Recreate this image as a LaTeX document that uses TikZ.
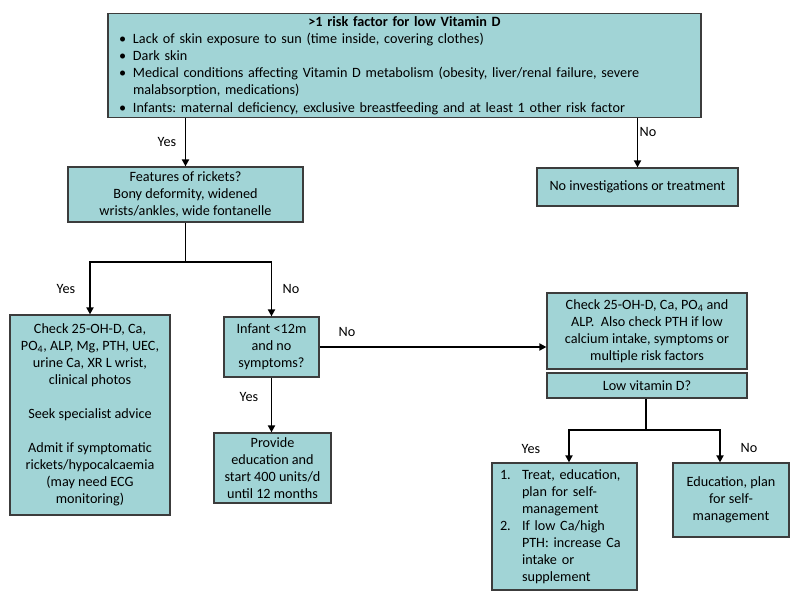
\documentclass[tikz,border=0pt]{standalone}
\usepackage{fontspec}
\setmainfont{Carlito}
\usetikzlibrary{arrows.meta,calc}
\definecolor{boxfill}{RGB}{161,212,214}
\definecolor{boxline}{RGB}{60,60,60}
\newcommand{\bul}{\makebox[14pt][l]{\textbullet}}
\newcommand{\bgap}{\makebox[14pt][l]{}}
\frenchspacing
\begin{document}
\begin{tikzpicture}[x=1pt,y=-1pt,
  box/.style={draw=boxline,fill=boxfill,line width=1.2pt,inner sep=0pt,align=center,
    font=\fontsize{14.2}{17}\selectfont\frenchspacing},
  lab/.style={font=\fontsize{14.2}{17}\selectfont,inner sep=0pt},
  arr/.style={line width=1.8pt,-{Triangle[width=7pt,length=7pt]}},
  ln/.style={line width=1.8pt}]
\useasboundingbox (0,0) rectangle (800,615);
\fill[white] (0,0) rectangle (800,615);

\node[box,minimum width=593pt,minimum height=104pt,text width=571pt,inner xsep=11pt,align=left] (top) at (404.5,65.5) {%
\makebox[571pt][c]{\textbf{>1 risk factor for low Vitamin D}}\\
\bul Lack of skin exposure to sun (time inside, covering clothes)\\
\bul Dark skin\\
\bul Medical conditions affecting Vitamin D metabolism (obesity, liver/renal failure, severe\\
\bgap malabsorption, medications)\\[1pt]
\bul Infants: maternal deficiency, exclusive breastfeeding and at least 1 other risk factor};

\node[box,minimum width=235pt,minimum height=55pt] (feat) at (185.5,194.5) {Features of rickets?\\Bony deformity, widened\\wrists/ankles, wide fontanelle};
\node[box,minimum width=201pt,minimum height=38pt] (noinv) at (637.5,187) {No investigations or treatment};
\node[box,minimum width=160pt,minimum height=200pt] (left) at (90,415) {Check 25-OH-D, Ca,\\PO\textsubscript{4}, ALP, Mg, PTH, UEC,\\urine Ca, XR L wrist,\\clinical photos\\[17pt]Seek specialist advice\\[17pt]Admit if symptomatic\\rickets/hypocalcaemia\\(may need ECG\\monitoring)};
\node[box,minimum width=95pt,minimum height=60pt] (inf) at (271.5,347) {Infant <12m\\and no\\symptoms?};
\node[box,minimum width=117pt,minimum height=70pt] (prov) at (272.5,468) {Provide\\education and\\start 400 units/d\\until 12 months};
\node[box,minimum width=200pt,minimum height=76pt] (check) at (647,331) {Check 25-OH-D, Ca, PO\textsubscript{4} and\\ALP.\ \ Also check PTH if low\\calcium intake, symptoms or\\multiple risk factors};
\node[box,minimum width=200pt,minimum height=25pt] (low) at (647,385.5) {Low vitamin D?};
\node[box,minimum width=145pt,minimum height=127pt,align=left,text width=129pt,inner xsep=8pt] (treat) at (564.5,526.5) {%
\makebox[22pt][l]{1.}Treat, education,\\\makebox[22pt]{}plan for self-\\\makebox[22pt]{}management\\\makebox[22pt][l]{2.}If low Ca/high\\\makebox[22pt]{}PTH: increase Ca\\\makebox[22pt]{}intake or\\\makebox[22pt]{}supplement};
\node[box,minimum width=116pt,minimum height=74pt] (edu) at (731,500) {Education, plan\\for self-\\management};

% connectors
\draw[arr] (top.south -| feat.north) -- (feat.north);
\draw[arr] (top.south -| noinv.north) -- (noinv.north);
\coordinate (j1) at (185.5,262);
\draw[ln] (feat.south) -- (j1);
\draw[arr] (j1) -| (left.north);
\draw[arr] (j1) -| (inf.north);
\draw[arr] (inf.south) -- (inf.south |- prov.north);
\draw[arr] (inf.east) -- (inf.east -| check.west);
\coordinate (j2) at (646,430);
\draw[ln] (low.south -| j2) -- (j2);
\draw[arr] (j2) -| (569,0 |- treat.north);
\draw[arr] (j2) -| (720,0 |- edu.north);

% labels
\node[lab] (l1) at (167,142) {Yes};
\node[lab] (l2) at (648,132) {No};
\node[lab] (l3) at (66,289) {Yes};
\node[lab] (l4) at (291,289) {No};
\node[lab] (l5) at (249,397) {Yes};
\node[lab] (l6) at (347,332) {No};
\node[lab] (l7) at (531,449) {Yes};
\node[lab] (l8) at (749,448) {No};
\end{tikzpicture}
\end{document}
